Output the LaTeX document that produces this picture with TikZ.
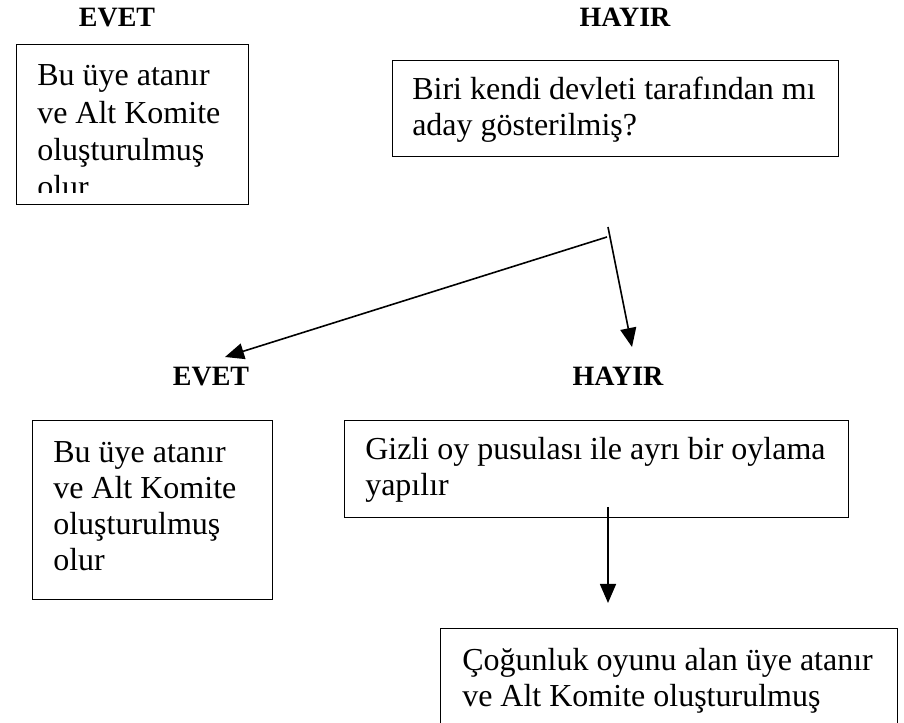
\documentclass[tikz,border=0pt]{standalone}
\usepackage{fontspec}
\setmainfont{Liberation Serif}
\usetikzlibrary{arrows.meta}
\def\px{0.75pt}
\tikzset{
  box/.style={draw, line width=1.3*\px, anchor=north west, inner sep=0pt},
  txt/.style={anchor=base west, inner sep=0pt, font=\fontsize{24}{27}\selectfont},
  head/.style={anchor=base, inner sep=0pt, font=\fontsize{21}{24}\selectfont\bfseries},
  arrow/.style={line width=1.6*\px, -{Triangle[length=19*\px, width=16*\px]}}
}
\begin{document}
\begin{tikzpicture}[x=0.75pt, y=-0.75pt]
\useasboundingbox (0,0) rectangle (904,723);
\clip (0,0) rectangle (904,723);
% headings
\node[head] (evet1) at (117,27) {EVET};
\node[head] (hayir1) at (625,27) {HAYIR};
\node[head] (evet2) at (211,386) {EVET};
\node[head] (hayir2) at (618,386) {HAYIR};
% boxes
\node[box, minimum width=232*\px, minimum height=160*\px] (b1) at (16,44) {};
\begin{scope}
\clip (16,44) rectangle (248,193);
\node[txt, font=\fontsize{24}{28}\selectfont] (t1) at (37,86) {\vtop{\hbox{Bu üye atanır}\hbox{ve Alt Komite}\hbox{oluşturulmuş}\hbox{olur}}};
\end{scope}
\node[box, minimum width=446*\px, minimum height=96*\px] (b2) at (392,60) {};
\node[txt] (t2) at (412,100) {\vtop{\hbox{Biri kendi devleti tarafından mı}\hbox{aday gösterilmiş?}}};
\node[box, minimum width=240*\px, minimum height=179*\px] (b3) at (32,420) {};
\node[txt] (t3) at (53,463) {\vtop{\hbox{Bu üye atanır}\hbox{ve Alt Komite}\hbox{oluşturulmuş}\hbox{olur}}};
\node[box, minimum width=504*\px, minimum height=97*\px] (b4) at (344,420) {};
\node[txt] (t4) at (365,460) {\vtop{\hbox{Gizli oy pusulası ile ayrı bir oylama}\hbox{yapılır}}};
\node[box, minimum width=457*\px, minimum height=130*\px] (b5) at (440,628) {};
\node[txt] (t5) at (462,671) {\vtop{\hbox{Çoğunluk oyunu alan üye atanır}\hbox{ve Alt Komite oluşturulmuş}}};
% connectors
\coordinate (s) at (608,227);
\coordinate (j) at (607,237);
\coordinate (e) at (225,357);
\coordinate (h) at (632,347);
\draw[arrow] (s) -- (h);
\draw[arrow] (j) -- (e);
\coordinate (s2) at (608,507);
\coordinate (e2) at (608,603);
\draw[arrow] (s2) -- (e2);
\end{tikzpicture}
\end{document}
